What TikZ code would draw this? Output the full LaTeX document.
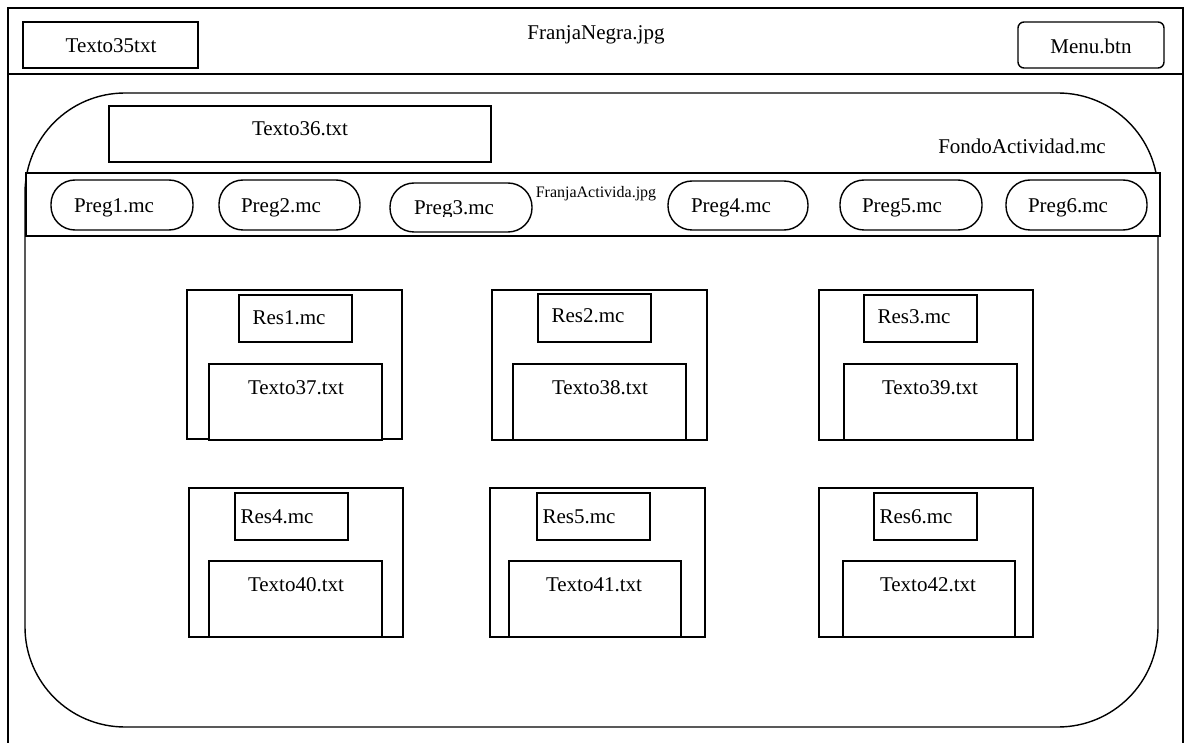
\documentclass[tikz,border=0pt]{standalone}
\usepackage{fontspec}
\setmainfont{Liberation Serif}
\begin{document}
\begin{tikzpicture}[x=1pt,y=-1pt,
  line width=1.4pt,
  rect/.style={draw, fill=white, inner sep=0pt, outer sep=0pt, anchor=north west},
  pill/.style={rect, rounded corners=24pt},
  lbl/.style={anchor=base, inner sep=0pt, font=\fontsize{21}{25}\selectfont},
  small/.style={anchor=base, inner sep=0pt, font=\fontsize{16}{19}\selectfont}]
\useasboundingbox (0,0) rectangle (1184,743);

% page frame and header strip
\draw (8,743) -- (8,8) -- (1183,8) -- (1183,743);
\draw (8,74) -- (1183,74);
\node[rect, minimum width=175pt, minimum height=46pt] (t35) at (23,22) {};
\node[rect, rounded corners=6pt, minimum width=146pt, minimum height=46pt] (menu) at (1018,22) {};
\node[lbl] (t35l) at (111,53) {Texto35txt};
\node[lbl] (negra) at (596,40) {FranjaNegra.jpg};
\node[lbl] (menul) at (1091,54) {Menu.btn};

% activity background
\draw[rounded corners=100pt] (25,93) rectangle (1158,727);
\node[rect, minimum width=382pt, minimum height=56pt] (t36) at (109,106) {};
\node[lbl] (t36l) at (300,136) {Texto36.txt};
\node[lbl] (fondo) at (1022,154) {FondoActividad.mc};

% question strip
\node[rect, minimum width=1134pt, minimum height=63pt] (band) at (26,173) {};
\node[small] (bandl) at (596,198) {FranjaActivida.jpg};
\node[pill, minimum width=142pt, minimum height=50pt] (p1) at (51,180) {};
\node[pill, minimum width=141pt, minimum height=50pt] (p2) at (219,180) {};
\node[pill, minimum width=142pt, minimum height=49pt] (p3) at (390,183) {};
\node[pill, minimum width=140pt, minimum height=49pt] (p4) at (668,181) {};
\node[pill, minimum width=142pt, minimum height=50pt] (p5) at (840,180) {};
\node[pill, minimum width=141pt, minimum height=50pt] (p6) at (1006,180) {};
% question labels are cut just below their baseline
\begin{scope}
  \clip (0,0) rectangle (1184,216.5);
  \node[lbl] (p1l) at (114,213) {Preg1.mc};
  \node[lbl] (p2l) at (281,213) {Preg2.mc};
  \node[lbl] (p3l) at (454,215) {Preg3.mc};
  \node[lbl] (p4l) at (731,213) {Preg4.mc};
  \node[lbl] (p5l) at (902,213) {Preg5.mc};
  \node[lbl] (p6l) at (1068,213) {Preg6.mc};
\end{scope}

% answer groups, first row
\node[rect, minimum width=215pt, minimum height=149pt] (g1) at (187,290) {};
\node[rect, minimum width=113pt, minimum height=47pt] (r1) at (239,295) {};
\node[rect, minimum width=173pt, minimum height=76pt] (t37) at (209,364) {};
\node[rect, minimum width=215pt, minimum height=150pt] (g2) at (492,290) {};
\node[rect, minimum width=113pt, minimum height=48pt] (r2) at (538,294) {};
\node[rect, minimum width=173pt, minimum height=76pt] (t38) at (513,364) {};
\node[rect, minimum width=214pt, minimum height=150pt] (g3) at (819,290) {};
\node[rect, minimum width=113pt, minimum height=47pt] (r3) at (864,295) {};
\node[rect, minimum width=173pt, minimum height=76pt] (t39) at (844,364) {};
\node[lbl] (r1l) at (289,325) {Res1.mc};
\node[lbl] (r2l) at (588,323) {Res2.mc};
\node[lbl] (r3l) at (914,324) {Res3.mc};
\node[lbl] (t37l) at (296,395) {Texto37.txt};
\node[lbl] (t38l) at (600,395) {Texto38.txt};
\node[lbl] (t39l) at (930,395) {Texto39.txt};

% answer groups, second row
\node[rect, minimum width=214pt, minimum height=149pt] (g4) at (189,488) {};
\node[rect, minimum width=113pt, minimum height=47pt] (r4) at (235,493) {};
\node[rect, minimum width=173pt, minimum height=76pt] (t40) at (209,561) {};
\node[rect, minimum width=215pt, minimum height=149pt] (g5) at (490,488) {};
\node[rect, minimum width=113pt, minimum height=47pt] (r5) at (537,493) {};
\node[rect, minimum width=172pt, minimum height=76pt] (t41) at (509,561) {};
\node[rect, minimum width=214pt, minimum height=149pt] (g6) at (819,488) {};
\node[rect, minimum width=103pt, minimum height=47pt] (r6) at (874,493) {};
\node[rect, minimum width=172pt, minimum height=76pt] (t42) at (843,561) {};
\node[lbl] (r4l) at (277,523) {Res4.mc};
\node[lbl] (r5l) at (579,523) {Res5.mc};
\node[lbl] (r6l) at (916,523) {Res6.mc};
\node[lbl] (t40l) at (296,591) {Texto40.txt};
\node[lbl] (t41l) at (594,591) {Texto41.txt};
\node[lbl] (t42l) at (928,591) {Texto42.txt};
\end{tikzpicture}
\end{document}
